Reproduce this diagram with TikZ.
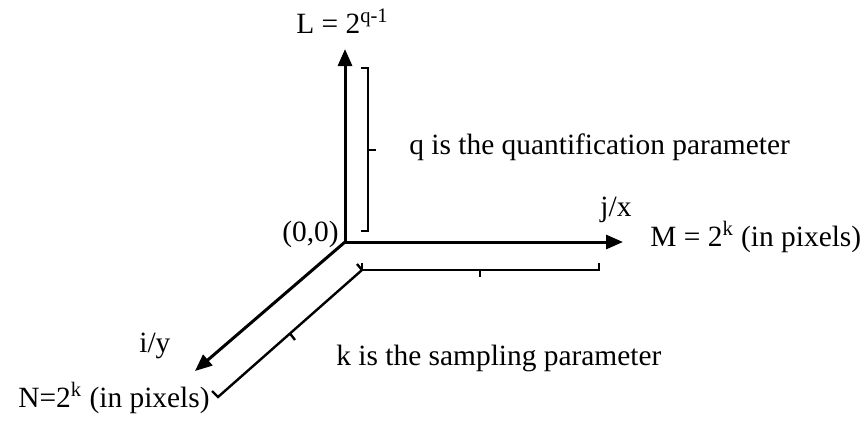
\documentclass[tikz,border=0pt]{standalone}
\usepackage{fontspec}
\setmainfont{Liberation Serif}
\usepackage{tikz}
\usetikzlibrary{arrows.meta,positioning,calc}
\tikzset{
  axis/.style={line width=1.5pt, -{Triangle[length=8.5pt,width=7pt]}},
  bracketline/.style={line width=1.2pt},
  lbl/.style={inner sep=0pt, font=\fontsize{14.7}{17}\selectfont},
}

\begin{document}
\begin{tikzpicture}[x=0.5pt, y=-0.5pt]
    \useasboundingbox (0,0) rectangle (868,424);
    % axes
    \coordinate (o)  at (345,242);
    \coordinate (lt) at (345,49);
    \coordinate (mt) at (623,242);
    \coordinate (nt) at (195,371);
    \draw[axis] (o) -- (lt);
    \draw[axis] (o) -- (mt);
    \draw[axis] (o) -- (nt);

    % brackets
    \draw[bracketline] (361,68) -- (368,68) -- (368,231) -- (361,231);
    \draw[bracketline] (368,150) -- (376,150);
    \draw[bracketline] (362,263) -- (362,270) -- (599,270) -- (599,263);
    \draw[bracketline] (480,270) -- (480,277);
    \draw[bracketline] (357,264) -- (362,270) -- (218,397) -- (212,391);
    \draw[bracketline] (290,333.5) -- (295,340);

    % labels
    \node[lbl, anchor=base west] (ltxt) at (296,33) {L = 2\textsuperscript{q-1}};
    \node[lbl, anchor=base west] (qtxt) at (409,154) {q is the quantification parameter};
    \node[lbl, anchor=base west] (jx)   at (600,216) {j/x};
    \node[lbl, anchor=base west] (mtxt) at (650,246) {M = 2\textsuperscript{k} (in pixels)};
    \node[lbl, anchor=base east] (orig) at (339,241) {(0,0)};
    \node[lbl, anchor=base west] (iy)   at (139,352) {i/y};
    \node[lbl, anchor=base west] (ktxt) at (336,365) {k is the sampling parameter};
    \node[lbl, anchor=base west] (ntxt) at (18,407) {N=2\textsuperscript{k} (in pixels)};
\end{tikzpicture}
\end{document}
